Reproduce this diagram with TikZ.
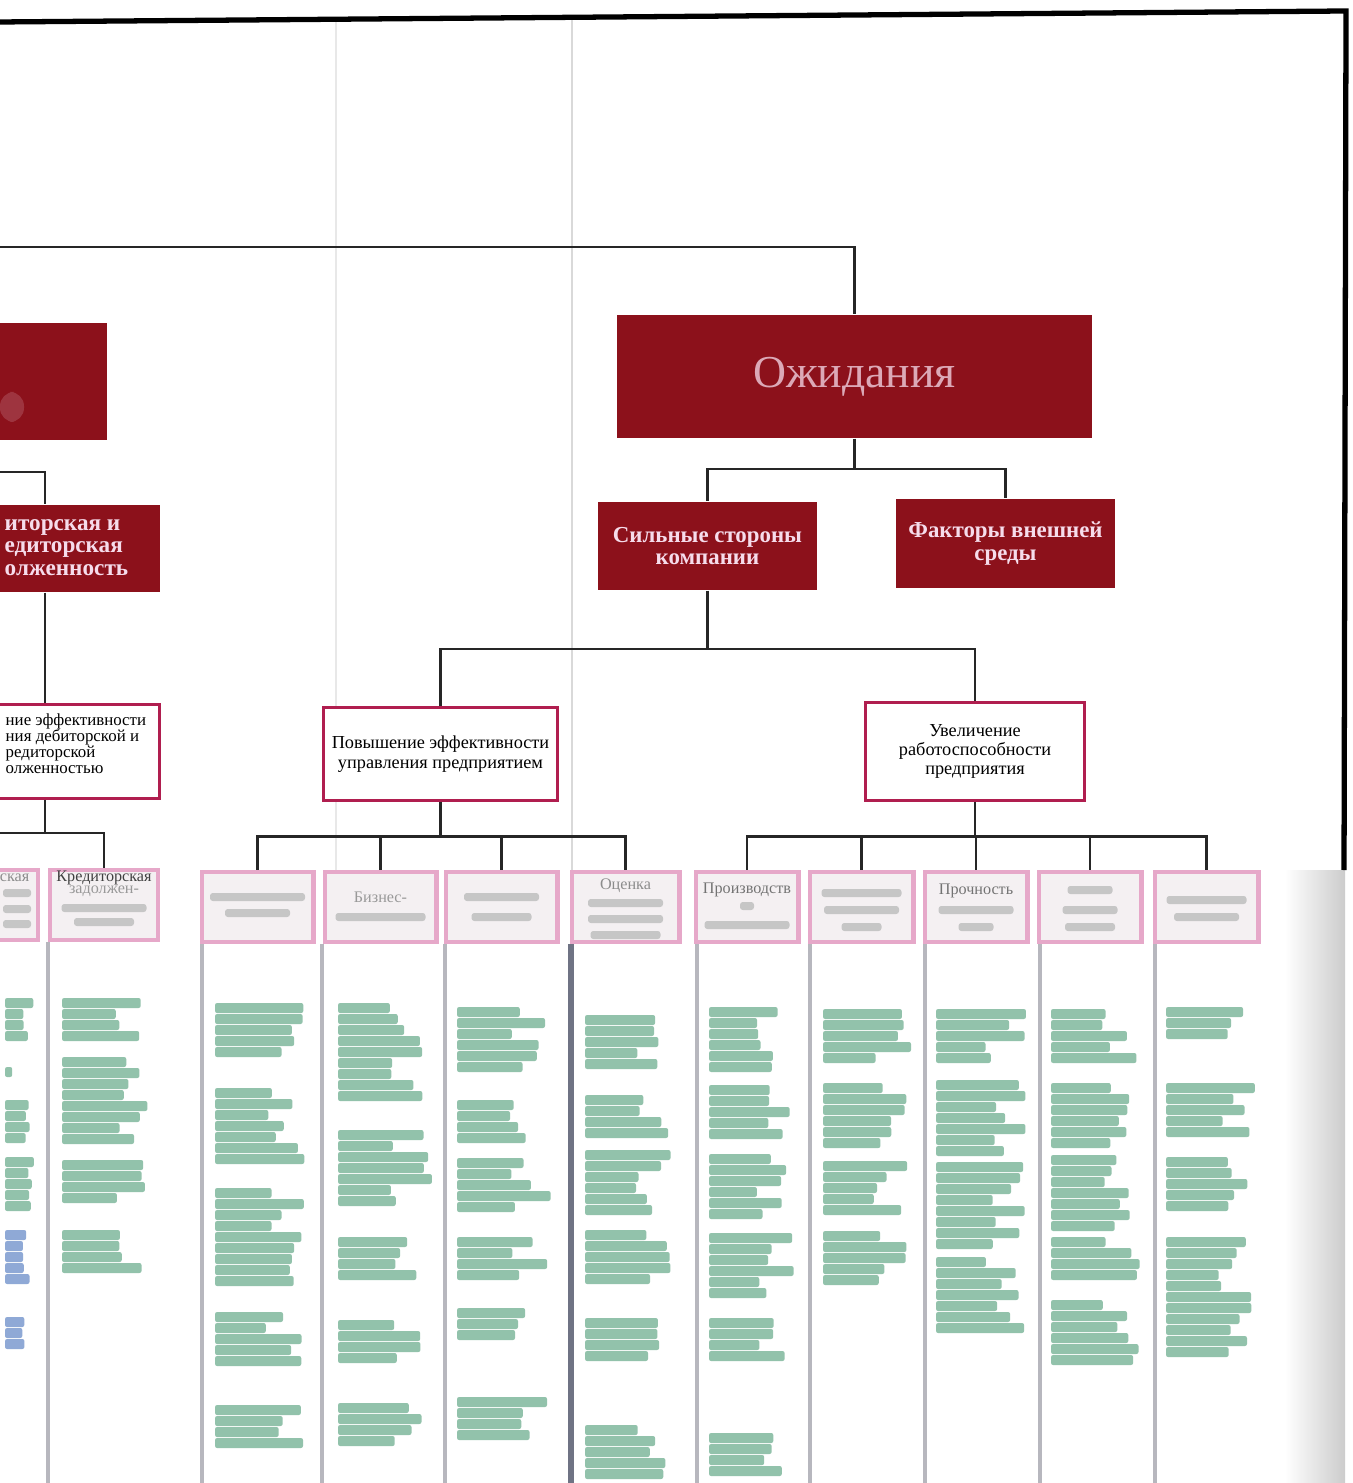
\documentclass[tikz,border=0pt]{standalone}
\usepackage{fontspec}
\setmainfont{Liberation Serif}
\usetikzlibrary{calc}
\definecolor{dred}{HTML}{8C111B}
\definecolor{pinktxt}{HTML}{F6DCEB}
\definecolor{crim}{HTML}{B01E4F}
\definecolor{lpink}{HTML}{E6A8C9}
\definecolor{sbfill}{HTML}{F4F0F2}
\definecolor{grn}{HTML}{92C2AB}
\definecolor{blu}{HTML}{8FA9D6}
\definecolor{sepc}{HTML}{B7B7BE}
\definecolor{sepd}{HTML}{6F7384}
\newcommand{\gblk}[5][grn]{%
  \pgfmathtruncatemacro{\gbN}{max(1,round((#4-#3+2)/11))}%
  \foreach \gi in {1,...,\gbN}{%
    \pgfmathsetmacro{\gy}{#3+(\gi-1)*11}%
    \pgfmathsetmacro{\gw}{#5*(0.55+0.45*rnd)}%
    \fill[#1,rounded corners=0.6pt] (#2,\gy) rectangle ++(\gw,10);%
  }}
\newcommand{\gbarc}[3]{\fill[gray!45,rounded corners=0.8pt] ({#1-#3/2},{#2-4}) rectangle ({#1+#3/2},{#2+4});}
\tikzset{
  redbox/.style={fill=dred, draw=none, text=pinktxt, align=center, inner sep=0pt,
    font=\bfseries\fontsize{6.5}{6.4}\selectfont},
  redtext/.style={text=pinktxt, align=left, inner sep=0pt, font=\bfseries\fontsize{6.6}{6.4}\selectfont},
  wbox/.style={fill=white, draw=crim, line width=0.85pt, align=center, inner sep=0pt,
    font=\fontsize{5.2}{5.6}\selectfont},
  sbox/.style={fill=sbfill, draw=lpink, line width=1.4pt, minimum height=0.70cm, inner sep=0pt},
  sbtext/.style={text=black!55, inner sep=0pt, font=\fontsize{4.6}{4.6}\selectfont},
  conn/.style={draw=black!85, line width=0.6pt},
  sepline/.style={draw=sepc, line width=1.3pt}
}
\begin{document}
\begin{tikzpicture}[x=0.01cm,y=-0.01cm]
\useasboundingbox (0,0) rectangle (1352,1483);
\fill[white] (0,0) rectangle (1352,1483);
\pgfmathsetseed{7}
% scan shading and folds
\shade[left color=white, right color=gray!40] (1285,870) rectangle (1345,1483);
\draw[gray!30, line width=0.5pt] (572,20) -- (572,870);
\draw[gray!18, line width=0.5pt] (336,20) -- (336,870);
% border
\draw[line width=1.5pt] (0,22) -- (1346,11) -- (1344,870);
% column separators
\draw[sepline] (48,942) -- (48,1483);
\foreach \x in {202,322,445,697,810,925,1040,1155} \draw[sepline] (\x,944) -- (\x,1483);
\draw[draw=sepd, line width=1.8pt] (571,944) -- (571,1483);

% top level
\node[redbox, font=\fontsize{13}{14}\selectfont, text=pinktxt!75!dred, minimum width=4.75cm, minimum height=1.23cm] (ozh) at (854.5,376.5) {Ожидания};
\node[redbox, minimum width=2.19cm, minimum height=0.88cm] (sil) at (707.5,546) {Сильные стороны\\компании};
\node[redbox, minimum width=2.19cm, minimum height=0.89cm] (fak) at (1005.5,543.5) {Факторы внешней\\среды};
\node[redbox, minimum width=1.17cm, minimum height=1.17cm] (lr1) at (48.5,381.5) {};
\fill[pinktxt!50!dred, opacity=0.35, rounded corners=4pt] (0,392) rectangle (24,422);
\node[redbox, minimum width=1.70cm, minimum height=0.87cm] (lr2) at (75,548.5) {};
\node[redtext, anchor=west] (lr2t) at (4,547.5) {иторская и\\едиторская\\олженность};

% second level
\node[wbox, minimum width=2.33cm, minimum height=0.92cm] (pov) at (440.5,754) {Повышение эффективности\\управления предприятием};
\node[wbox, font=\fontsize{5.2}{5.3}\selectfont, minimum width=2.18cm, minimum height=0.97cm] (uvel) at (975,751.5) {Увеличение\\работоспособности\\предприятия};
\node[wbox, minimum width=1.69cm, minimum height=0.93cm] (lw) at (74.5,751.5) {};
\node[anchor=west, align=left, inner sep=0pt, font=\fontsize{4.8}{4.6}\selectfont] (lwt) at (5,743.5) {ние эффективности\\ния дебиторской и\\редиторской\\олженностью};

% third level boxes
\node[sbox, minimum width=1.11cm] (m1) at (257.5,907) {};
\node[sbox, minimum width=1.11cm] (m2) at (380.5,907) {};
\node[sbox, minimum width=1.11cm] (m3) at (501.5,907) {};
\node[sbox, minimum width=1.07cm] (m4) at (625.5,907) {};
\node[sbox, minimum width=1.02cm] (r1) at (747,907) {};
\node[sbox, minimum width=1.03cm] (r2) at (861.5,907) {};
\node[sbox, minimum width=1.02cm] (r3) at (976,907) {};
\node[sbox, minimum width=1.02cm] (r4) at (1090,907) {};
\node[sbox, minimum width=1.03cm] (r5) at (1206.5,907) {};
\node[sbox, minimum width=0.48cm] (l1) at (14,905) {};
\node[sbox, minimum width=1.08cm] (l2) at (104,905) {};

% contents of third level boxes
\gbarc{257.5}{897}{95} \gbarc{257.5}{913}{65}
\node[sbtext, text=black!40] (m2t) at (380.5,897) {Бизнес-}; \gbarc{380.5}{917}{90}
\gbarc{501.5}{897}{75} \gbarc{501.5}{917}{60}
\node[sbtext, text=black!45] (m4t) at (625.5,886) {Оценка};
\gbarc{625.5}{903}{75} \gbarc{625.5}{919}{75} \gbarc{625.5}{935}{70}
\node[sbtext] (r1t) at (747,890) {Производств}; \gbarc{747}{906}{14} \gbarc{747}{925}{85}
\gbarc{861.5}{893}{80} \gbarc{861.5}{910}{75} \gbarc{861.5}{927}{40}
\node[sbtext] (r3t) at (976,891) {Прочность}; \gbarc{976}{910}{75} \gbarc{976}{927}{35}
\gbarc{1090}{890}{45} \gbarc{1090}{910}{55} \gbarc{1090}{927}{50}
\gbarc{1206.5}{900}{80} \gbarc{1206.5}{917}{65}
\node[sbtext, anchor=east, text=black!45] (l1t) at (30,878) {ская};
\gbarc{17}{893}{28} \gbarc{17}{909}{28} \gbarc{17}{924}{28}
\node[sbtext, text=black!75] (l2t) at (104,878) {Кредиторская};
\node[sbtext, text=black!40] (l2u) at (104,891) {задолжен-};
\gbarc{104}{908}{85} \gbarc{104}{922}{60}

% connectors
\coordinate (tl) at (0,247);
\draw[conn] (tl) -| (ozh.north);
\coordinate (j1) at ($(ozh.south)+(0,30)$);
\draw[conn] (ozh.south) -- (j1);
\draw[conn] (j1) -| (sil.north);
\draw[conn] (j1) -| (fak.north);
\coordinate (j2) at ($(sil.south)+(0,58)$);
\draw[conn] (sil.south) -- (j2);
\draw[conn] (j2) -| (pov.north);
\draw[conn] (j2) -| (uvel.north);
\coordinate (j3) at ($(pov.south)+(0,35)$);
\draw[conn] (pov.south) -- (j3);
\foreach \b in {m1,m2,m3,m4} \draw[conn] (j3) -| (\b.north);
\coordinate (j4) at ($(uvel.south)+(0,35)$);
\draw[conn] (uvel.south) -- (j4);
\foreach \b in {r1,r2,r3,r4,r5} \draw[conn] (j4) -| (\b.north);
\coordinate (lx) at (45,0);
\coordinate (ll1) at (0,472);
\draw[conn] (ll1) -| (lx |- lr2.north);
\draw[conn] (lx |- lr2.south) -- (lx |- lw.north);
\coordinate (ll2) at (0,833);
\draw[conn] (lx |- lw.south) -- (lx |- ll2);
\draw[conn] (ll2) -| (l2.north);

% green text blocks (blurred)
\gblk{5}{998}{1040}{30} \gblk{5}{1067}{1073}{12} \gblk{5}{1100}{1147}{25} \gblk{5}{1157}{1213}{33}
\gblk[blu]{5}{1230}{1287}{30} \gblk[blu]{5}{1317}{1343}{30}
\gblk{62}{998}{1042}{86} \gblk{62}{1057}{1140}{86} \gblk{62}{1160}{1207}{86} \gblk{62}{1230}{1273}{86}
\gblk{215}{1003}{1060}{90} \gblk{215}{1088}{1168}{92} \gblk{215}{1188}{1288}{90} \gblk{215}{1312}{1367}{90} \gblk{215}{1405}{1450}{90}
\gblk{338}{1003}{1105}{94} \gblk{338}{1130}{1200}{94} \gblk{338}{1237}{1280}{94} \gblk{338}{1320}{1357}{94} \gblk{338}{1403}{1448}{94}
\gblk{457}{1007}{1073}{95} \gblk{457}{1100}{1143}{95} \gblk{457}{1158}{1215}{95} \gblk{457}{1237}{1280}{95} \gblk{457}{1308}{1340}{95} \gblk{457}{1397}{1440}{95}
\gblk{585}{1015}{1070}{90} \gblk{585}{1095}{1140}{90} \gblk{585}{1150}{1210}{90} \gblk{585}{1230}{1285}{90} \gblk{585}{1318}{1362}{90} \gblk{585}{1425}{1480}{90}
\gblk{709}{1007}{1069}{86} \gblk{709}{1085}{1143}{86} \gblk{709}{1154}{1216}{86} \gblk{709}{1233}{1292}{86} \gblk{709}{1318}{1364}{86} \gblk{709}{1433}{1480}{86}
\gblk{823}{1009}{1059}{90} \gblk{823}{1083}{1143}{90} \gblk{823}{1161}{1209}{90} \gblk{823}{1231}{1280}{90}
\gblk{936}{1009}{1059}{90} \gblk{936}{1080}{1150}{90} \gblk{936}{1162}{1243}{90} \gblk{936}{1257}{1328}{90}
\gblk{1051}{1009}{1057}{90} \gblk{1051}{1083}{1142}{90} \gblk{1051}{1155}{1226}{90} \gblk{1051}{1237}{1283}{90} \gblk{1051}{1300}{1359}{90}
\gblk{1166}{1007}{1042}{92} \gblk{1166}{1083}{1140}{92} \gblk{1166}{1157}{1205}{92} \gblk{1166}{1237}{1361}{92}
\end{tikzpicture}
\end{document}
